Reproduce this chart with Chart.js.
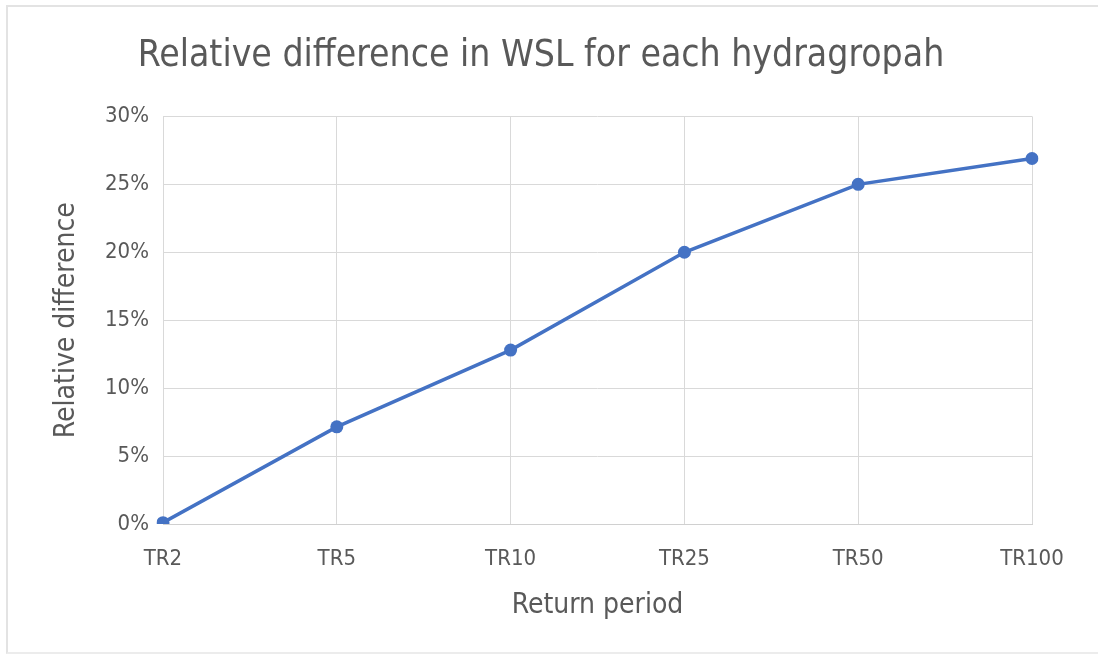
<!DOCTYPE html>
<html>
<head>
<meta charset="utf-8">
<script src="https://cdn.jsdelivr.net/npm/chart.js@4.4.0/dist/chart.umd.min.js"></script>
<style>
	html, body { margin: 0; padding: 0; background: #fff; overflow: hidden; }
	#frame {
		position: absolute; left: 6px; top: 5px; width: 1120px; height: 645px;
		border-top: 2px solid #e3e3e3; border-left: 2px solid #e3e3e3; border-bottom: 2px solid #ececec;
	}
	#wrap { position: absolute; left: 0; top: 0; width: 1098px; height: 658px; }
</style>
</head>
<body>
<div id="frame"></div>
<div id="wrap"><canvas id="myChart"></canvas></div>
<script>
let returnPeriods = ["TR2", "TR5", "TR10", "TR25", "TR50", "TR100"];
let relDiff = [0.1, 7.15, 12.8, 20.0, 25.0, 26.9]; // percent
let yTicks = [0, 5, 10, 15, 20, 25, 30];

let textColor = "#595959";
let fontFam = "'Liberation Sans Narrow', 'DejaVu Sans Condensed', 'Open Sans', sans-serif";

var ctx = document.getElementById("myChart");

var myChart = new Chart(ctx, {
	type: "line",
	data: {
		labels: returnPeriods,
		datasets: [
			{
				label: "Relative difference",
				data: relDiff,
				borderColor: "#4472C4",
				backgroundColor: "#4472C4",
				borderWidth: 3.5,
				pointRadius: 6.5,
				pointBorderWidth: 0,
				fill: false,
				tension: 0,
			},
		],
	},
	options: {
		responsive: true,
		maintainAspectRatio: false,
		animation: false,
		layout: { padding: { left: 50, right: 66, top: 0, bottom: 35 } },
		plugins: {
			legend: { display: false },
			tooltip: { enabled: false },
			title: {
				display: true,
				text: "Relative difference in WSL for each hydragropah",
				color: textColor,
				font: { family: fontFam, size: 37, weight: "normal" },
				padding: { top: 34, bottom: 38 },
			},
		},
		scales: {
			x: {
				offset: false,
				grid: { color: "#d9d9d9", lineWidth: 1, drawTicks: false },
				border: { color: "#d0d0d0", width: 1 },
				ticks: {
					color: textColor,
					padding: 22,
					font: { family: fontFam, size: 22 },
					maxRotation: 0,
				},
				title: {
					display: true,
					text: "Return period",
					color: textColor,
					font: { family: fontFam, size: 28 },
					padding: { top: -5, bottom: 0 },
				},
			},
			y: {
				min: 0,
				max: 30,
				afterFit: function (scale) {
					scale.width = 113;
				},
				afterBuildTicks: function (scale) {
					scale.ticks = yTicks.map((v) => ({ value: v }));
				},
				grid: { color: "#d9d9d9", lineWidth: 1, drawTicks: false },
				border: { display: false },
				ticks: {
					color: textColor,
					padding: 14,
					font: { family: fontFam, size: 22 },
					callback: (v) => v + "%",
				},
				title: {
					display: true,
					text: "Relative difference",
					color: textColor,
					font: { family: fontFam, size: 28 },
					padding: { top: 0, bottom: 0 },
				},
			},
		},
	},
});
</script>
</body>
</html>
